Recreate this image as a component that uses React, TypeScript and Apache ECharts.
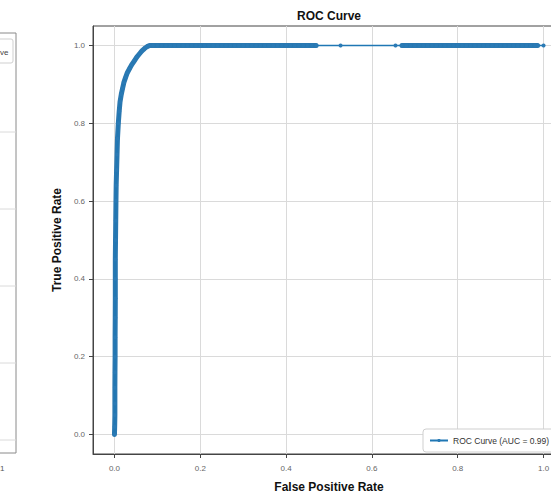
import React, { useEffect, useRef } from "react";
import * as echarts from "echarts";

// ROC curve points [FPR, TPR]
const rocSteep: number[][] = [
  [0.0, 0.0], [0.0005, 0.02], [0.001, 0.05], [0.001, 0.08], [0.001, 0.12], [0.0012, 0.16],
  [0.0015, 0.2], [0.0015, 0.25], [0.0018, 0.3], [0.002, 0.35], [0.002, 0.4], [0.002, 0.45],
  [0.0025, 0.5], [0.003, 0.55], [0.0035, 0.6], [0.004, 0.64], [0.005, 0.68], [0.006, 0.72],
  [0.007, 0.76], [0.009, 0.8], [0.011, 0.83], [0.013, 0.855], [0.016, 0.875], [0.019, 0.89],
  [0.022, 0.905], [0.026, 0.918], [0.03, 0.93], [0.035, 0.94], [0.04, 0.95], [0.046, 0.96],
  [0.052, 0.97], [0.058, 0.978], [0.064, 0.986], [0.07, 0.992], [0.076, 0.997], [0.082, 1.0],
];
const rocFlatA: number[][] = [
  [0.09, 1.0], [0.1, 1.0], [0.11, 1.0], [0.12, 1.0], [0.13, 1.0], [0.14, 1.0], [0.15, 1.0],
  [0.16, 1.0], [0.17, 1.0], [0.18, 1.0], [0.19, 1.0], [0.2, 1.0], [0.21, 1.0], [0.22, 1.0],
  [0.23, 1.0], [0.24, 1.0], [0.25, 1.0], [0.26, 1.0], [0.27, 1.0], [0.28, 1.0], [0.29, 1.0],
  [0.3, 1.0], [0.31, 1.0], [0.32, 1.0], [0.33, 1.0], [0.34, 1.0], [0.35, 1.0], [0.36, 1.0],
  [0.37, 1.0], [0.38, 1.0], [0.39, 1.0], [0.4, 1.0], [0.41, 1.0], [0.42, 1.0], [0.43, 1.0],
  [0.44, 1.0], [0.45, 1.0], [0.46, 1.0], [0.47, 1.0],
];
const rocSparse: number[][] = [[0.527, 1.0], [0.655, 1.0]];
const rocFlatB: number[][] = [
  [0.67, 1.0], [0.68, 1.0], [0.69, 1.0], [0.7, 1.0], [0.71, 1.0], [0.72, 1.0], [0.73, 1.0],
  [0.74, 1.0], [0.75, 1.0], [0.76, 1.0], [0.77, 1.0], [0.78, 1.0], [0.79, 1.0], [0.8, 1.0],
  [0.81, 1.0], [0.82, 1.0], [0.83, 1.0], [0.84, 1.0], [0.85, 1.0], [0.86, 1.0], [0.87, 1.0],
  [0.88, 1.0], [0.89, 1.0], [0.9, 1.0], [0.91, 1.0], [0.92, 1.0], [0.93, 1.0], [0.94, 1.0],
  [0.95, 1.0], [0.96, 1.0], [0.97, 1.0], [0.98, 1.0], [0.986, 1.0], [1.0, 1.0],
];
const tickValues = [0, 0.2, 0.4, 0.6, 0.8, 1.0];
const seriesName = "ROC Curve (AUC = 0.99)";

export default function App() {
  const ref = useRef<HTMLDivElement>(null);
  useEffect(() => {
    if (!ref.current) return;
    const chart = echarts.init(ref.current, null, { renderer: "svg" });
    const data = [...rocSteep, ...rocFlatA, ...rocSparse, ...rocFlatB];
    // dense stretches of overlapping markers, drawn as a thick band
    const dense: (number[] | null)[] = [...rocSteep, ...rocFlatA, null, ...rocFlatB.slice(0, -1)];
    const tickFont = { fontSize: 8, color: "#666", fontFamily: "Liberation Sans Narrow, Liberation Sans, Arial" };
    const axisCommon = {
      type: "value" as const,
      min: -0.05,
      max: 1.05,
      axisLine: { show: true, onZero: false, lineStyle: { color: "#444", width: 1 } },
      axisTick: { show: true, length: 4, customValues: tickValues, lineStyle: { color: "#444" } },
      axisLabel: { ...tickFont, customValues: tickValues, formatter: (v: number) => v.toFixed(1) },
      splitLine: { show: true, lineStyle: { color: "#dadada", width: 1 } },
      nameLocation: "middle" as const,
      nameTextStyle: { fontSize: 12, fontWeight: "bold" as const, color: "#111", fontFamily: "Liberation Sans, Arial" },
    };
    chart.setOption({
      animation: false,
      backgroundColor: "#fff",
      title: {
        text: "ROC Curve",
        left: "center",
        top: 5,
        textStyle: { fontSize: 12, fontWeight: "bold", color: "#111", fontFamily: "Liberation Sans, Arial" },
      },
      grid: { left: 93, top: 26, width: 472, height: 432, show: true, borderColor: "#444", borderWidth: 1, backgroundColor: "transparent" },
      xAxis: { ...axisCommon, name: "False Positive Rate", nameGap: 27, axisLabel: { ...axisCommon.axisLabel, margin: 10 } },
      yAxis: { ...axisCommon, name: "True Positive Rate", nameGap: 27, axisLabel: { ...axisCommon.axisLabel, margin: 8 } },
      legend: {
        left: 423,
        top: 429,
        orient: "vertical",
        backgroundColor: "#fff",
        borderColor: "#cfcfcf",
        borderWidth: 1,
        borderRadius: 3,
        padding: [7, 6, 7, 6],
        itemWidth: 18,
        itemHeight: 4,
        itemGap: 4,
        textStyle: { fontSize: 8.5, color: "#333", fontFamily: "Liberation Sans Narrow, Liberation Sans, Arial" },
        data: [seriesName],
      },
      series: [
        {
          name: "dense",
          type: "line",
          data: dense,
          connectNulls: false,
          showSymbol: false,
          symbol: "none",
          silent: true,
          lineStyle: { color: "#2b78b0", width: 5, cap: "round", join: "round" },
          z: 2,
        },
        {
          name: seriesName,
          type: "line",
          data,
          symbol: "circle",
          symbolSize: 4,
          showSymbol: true,
          color: "#1f77b4",
          lineStyle: { color: "#1f77b4", width: 1.5 },
          itemStyle: { color: "#2a7ab5" },
          z: 3,
        },
      ],
      graphic: [
        // partial neighbouring panel on the left edge
        { type: "line", shape: { x1: 16, y1: 33, x2: 16, y2: 453 }, style: { stroke: "#8a8a8a", lineWidth: 1 } },
        { type: "line", shape: { x1: 0, y1: 33, x2: 16, y2: 33 }, style: { stroke: "#8a8a8a", lineWidth: 1 } },
        { type: "line", shape: { x1: 0, y1: 453, x2: 16, y2: 453 }, style: { stroke: "#8a8a8a", lineWidth: 1 } },
        { type: "line", shape: { x1: 0, y1: 132, x2: 16, y2: 132 }, style: { stroke: "#dadada", lineWidth: 1 } },
        { type: "line", shape: { x1: 0, y1: 209, x2: 16, y2: 209 }, style: { stroke: "#dadada", lineWidth: 1 } },
        { type: "line", shape: { x1: 0, y1: 286, x2: 16, y2: 286 }, style: { stroke: "#dadada", lineWidth: 1 } },
        { type: "line", shape: { x1: 0, y1: 363, x2: 16, y2: 363 }, style: { stroke: "#dadada", lineWidth: 1 } },
        { type: "line", shape: { x1: 0, y1: 440, x2: 16, y2: 440 }, style: { stroke: "#dadada", lineWidth: 1 } },
        { type: "rect", shape: { x: -6, y: 39, width: 19, height: 24, r: 2 }, style: { fill: "#fff", stroke: "#cfcfcf", lineWidth: 1 } },
        { type: "text", x: 0, y: 48, style: { text: "ve", fontSize: 8, fill: "#444", fontFamily: "Liberation Sans, Arial" } },
        { type: "text", x: 0, y: 464, style: { text: "1", fontSize: 8, fill: "#555", fontFamily: "Liberation Sans, Arial" } },
      ],
    });
    return () => chart.dispose();
  }, []);
  return (
    <div style={{ position: "fixed", left: 0, top: 0, width: 551, height: 498, overflow: "hidden", background: "#fff" }}>
      <div ref={ref} style={{ width: 658, height: 498 }} />
    </div>
  );
}
